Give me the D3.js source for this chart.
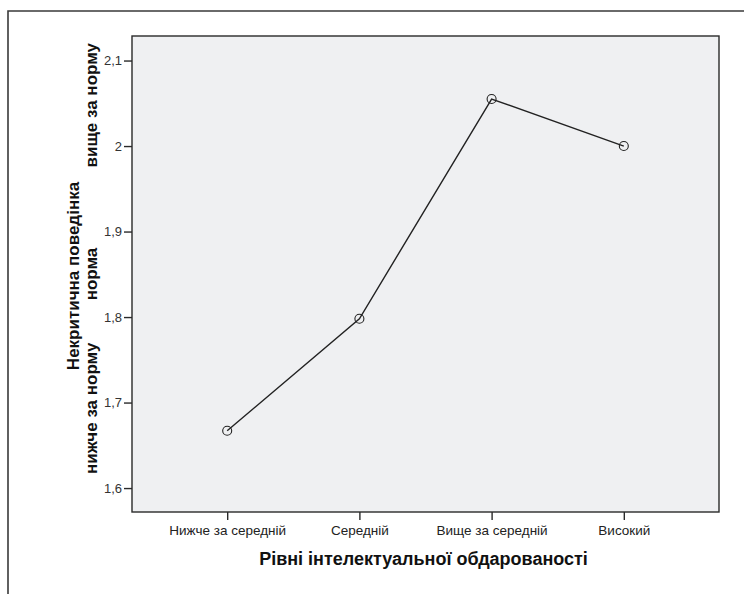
<!DOCTYPE html>
<html><head><meta charset="utf-8">
<script src="https://cdn.jsdelivr.net/npm/d3@7"></script>
<style>
html,body{margin:0;padding:0;background:#fff;}
svg{display:block;font-family:"Liberation Sans",Arial,sans-serif;}
</style></head>
<body>
<svg id="chart" width="744" height="594"></svg>
<script>
const categories = ["Нижче за середній", "Середній", "Вище за середній", "Високий"];
const values = [1.667, 1.798, 2.055, 2.0];
const yTicks = [1.6, 1.7, 1.8, 1.9, 2.0, 2.1];
const xTitle = "Рівні інтелектуальної обдарованості";
const yTitle1 = "Некритична поведінка";
const yTitleLow = "нижче за норму";
const yTitleMid = "норма";
const yTitleHigh = "вище за норму";

const svg = d3.select("#chart");
const plot = {left: 132, top: 36, right: 719, bottom: 512};

// outer frame
svg.append("path")
  .attr("d", "M8,594V11H744")
  .attr("fill", "none").attr("stroke", "#3a3a3a").attr("stroke-width", 1.6);

// plot area
svg.append("rect")
  .attr("x", plot.left).attr("y", plot.top)
  .attr("width", plot.right - plot.left).attr("height", plot.bottom - plot.top)
  .attr("fill", "#eff0f2").attr("stroke", "#2a2a2a").attr("stroke-width", 1.4);

const x = d3.scalePoint().domain(categories).range([plot.left, plot.right]).padding(0.72);
const y = d3.scaleLinear().domain([1.572, 2.1287]).range([plot.bottom, plot.top]);

const fmt = d => d3.format(".1~f")(d).replace(".", ",");

const yAxis = svg.append("g").attr("transform", `translate(${plot.left},0)`)
  .call(d3.axisLeft(y).tickValues(yTicks).tickFormat(fmt).tickSize(8).tickPadding(2));
yAxis.select(".domain").remove();
yAxis.selectAll(".tick line").attr("stroke", "#2a2a2a").attr("stroke-width", 1.4);
yAxis.selectAll(".tick text").attr("font-size", 13).attr("fill", "#333")
  .attr("font-family", "Liberation Sans, Arial, sans-serif");

const xAxis = svg.append("g").attr("transform", `translate(0,${plot.bottom})`)
  .call(d3.axisBottom(x).tickSize(8).tickPadding(5));
xAxis.select(".domain").remove();
xAxis.selectAll(".tick line").attr("stroke", "#2a2a2a").attr("stroke-width", 1.4);
xAxis.selectAll(".tick text").attr("font-size", 13.5).attr("fill", "#222")
  .attr("font-family", "Liberation Sans, Arial, sans-serif");

// line
const line = d3.line().x((d, i) => x(categories[i])).y(d => y(d));
svg.append("path").datum(values)
  .attr("d", line).attr("fill", "none").attr("stroke", "#222").attr("stroke-width", 1.4);

svg.selectAll("circle.pt").data(values).enter().append("circle")
  .attr("class", "pt")
  .attr("cx", (d, i) => x(categories[i])).attr("cy", d => y(d)).attr("r", 4.5)
  .attr("fill", "none").attr("stroke", "#222").attr("stroke-width", 1.1);

// x title
svg.append("text")
  .attr("x", (plot.left + plot.right) / 2 - 2).attr("y", 565)
  .attr("text-anchor", "middle").attr("font-size", 18).attr("font-weight", "bold")
  .attr("fill", "#111").text(xTitle);

// y title
const midY = (plot.top + plot.bottom) / 2;
svg.append("text")
  .attr("transform", `translate(79,${midY + 2}) rotate(-90)`)
  .attr("text-anchor", "middle").attr("font-size", 17).attr("font-weight", "bold")
  .attr("fill", "#111").text(yTitle1);
svg.append("text")
  .attr("transform", `translate(97,${midY}) rotate(-90)`)
  .attr("text-anchor", "middle").attr("font-size", 17).attr("font-weight", "bold")
  .attr("fill", "#111").text(yTitleMid);
svg.append("text")
  .attr("transform", `translate(97,43) rotate(-90)`)
  .attr("text-anchor", "end").attr("font-size", 17).attr("font-weight", "bold")
  .attr("fill", "#111").text(yTitleHigh);
svg.append("text")
  .attr("transform", `translate(97,474) rotate(-90)`)
  .attr("text-anchor", "start").attr("font-size", 17).attr("font-weight", "bold")
  .attr("fill", "#111").text(yTitleLow);
</script>
</body></html>
